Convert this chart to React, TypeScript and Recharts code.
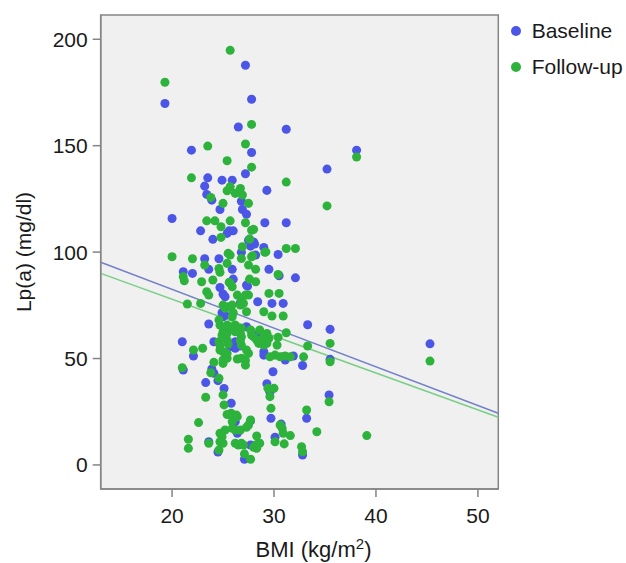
import React from 'react';
import {
  ScatterChart,
  Scatter,
  XAxis,
  YAxis,
  ZAxis,
  ReferenceArea,
  ReferenceLine,
} from 'recharts';

// [BMI (kg/m2), Lp(a) (mg/dl)]
const baselinePoints: [number, number][] = [
  [19.3, 169.8], [27.2, 187.8], [27.8, 171.8], [26.5, 158.8], [31.2, 157.7], [21.9, 147.9], [27.8, 146.8], [27.2, 136.8], [23.5, 134.9], [23.2, 131.0],
  [24.9, 133.8], [25.9, 133.8], [23.4, 127.1], [23.9, 124.4], [29.3, 129.0], [26.8, 123.9], [24.7, 120.0], [26.9, 120.0], [27.3, 117.8], [20.0, 115.8],
  [29.1, 113.8], [31.2, 113.8], [22.8, 110.0], [24.0, 106.0], [25.6, 110.0], [26.0, 110.0], [25.4, 108.8], [27.5, 105.6], [27.7, 102.8], [28.1, 103.8],
  [29.0, 102.2], [23.2, 96.9], [24.6, 96.9], [28.2, 98.6], [30.4, 98.9], [21.1, 90.8], [22.0, 90.0], [23.6, 91.9], [25.9, 91.9], [29.5, 91.9],
  [32.1, 87.9], [26.8, 99.9], [27.6, 106.1], [28.0, 104.8], [27.3, 84.5], [26.0, 87.3], [30.5, 88.9], [24.7, 83.4], [27.4, 84.0], [25.0, 80.3],
  [25.2, 79.0], [26.7, 76.2], [28.4, 76.7], [29.8, 75.9], [30.9, 75.9], [24.9, 71.5], [25.2, 70.4], [25.0, 69.6], [23.6, 66.2], [25.7, 64.6],
  [27.3, 64.9], [33.3, 65.9], [35.5, 63.7], [28.3, 61.0], [21.0, 57.9], [24.1, 57.9], [26.2, 57.9], [22.1, 51.2], [25.7, 55.5], [26.2, 54.8],
  [26.7, 55.9], [29.0, 53.2], [30.9, 50.8], [31.9, 51.2], [35.5, 49.6], [29.0, 51.6], [31.1, 49.3], [32.8, 46.7], [45.3, 56.9], [38.1, 147.9],
  [35.2, 139.0], [21.1, 44.6], [23.9, 45.1], [24.1, 43.1], [23.3, 38.7], [25.1, 35.9], [29.9, 43.8], [29.3, 38.2], [29.6, 34.1], [35.4, 32.9],
  [25.8, 29.0], [33.2, 21.9], [29.7, 21.9], [26.2, 20.3], [27.7, 20.7], [30.7, 19.2], [26.4, 14.9], [30.1, 13.0], [23.6, 10.9], [24.5, 6.1],
  [27.7, 9.4], [32.8, 4.7], [27.1, 2.7], [24.5, 39.6],
];

const followupPoints: [number, number][] = [
  [19.3, 179.8], [25.7, 194.8], [27.8, 160.0], [23.5, 149.8], [27.2, 150.8], [25.4, 142.9], [27.8, 139.9], [21.9, 134.9], [25.7, 130.7], [26.7, 129.9],
  [26.2, 127.6], [26.9, 126.8], [25.4, 128.8], [23.8, 125.7], [31.2, 132.9], [25.0, 122.9], [27.5, 122.9], [35.2, 121.7], [24.8, 111.9], [23.4, 114.7],
  [24.2, 114.7], [25.7, 114.7], [27.2, 113.8], [24.8, 106.9], [27.8, 110.3], [28.0, 110.7], [27.6, 106.0], [26.9, 102.5], [29.2, 100.1], [29.1, 99.9],
  [31.2, 101.7], [32.1, 101.7], [20.0, 97.8], [22.0, 96.9], [25.5, 99.4], [25.7, 98.6], [26.8, 97.0], [27.8, 97.8], [27.9, 98.3], [23.2, 93.9],
  [24.6, 92.3], [25.4, 94.7], [27.5, 93.9], [28.2, 91.9], [30.4, 89.5], [21.1, 88.4], [24.7, 90.5], [21.2, 86.5], [22.9, 86.1], [24.0, 86.9],
  [25.6, 85.8], [27.6, 87.3], [28.2, 86.1], [25.7, 85.3], [25.9, 83.7], [23.4, 81.4], [23.6, 79.8], [26.4, 79.8], [27.2, 79.8], [27.5, 79.8],
  [26.8, 77.5], [27.0, 75.9], [26.7, 75.1], [29.5, 80.6], [30.5, 80.6], [21.5, 75.6], [22.8, 75.9], [25.0, 75.1], [25.5, 74.3], [25.9, 75.1],
  [25.2, 73.6], [26.0, 71.5], [25.9, 69.6], [27.3, 72.0], [29.0, 72.0], [29.8, 70.0], [30.9, 70.0], [24.6, 68.1], [24.7, 65.7], [25.4, 65.7],
  [25.9, 64.9], [26.2, 65.7], [25.0, 62.6], [25.4, 61.8], [24.9, 61.0], [26.8, 64.2], [27.7, 63.4], [26.2, 62.6], [26.7, 61.8], [26.8, 60.2],
  [27.8, 61.0], [28.0, 60.2], [28.6, 63.4], [29.0, 61.0], [29.3, 61.8], [29.5, 59.5], [31.2, 62.1], [30.4, 60.0], [24.6, 57.9], [24.7, 56.3],
  [25.4, 58.7], [25.5, 56.8], [26.7, 58.4], [26.8, 56.3], [28.3, 58.7], [28.5, 57.1], [28.8, 57.9], [29.0, 56.3], [29.3, 57.1], [30.3, 56.3],
  [33.3, 55.9], [35.5, 57.1], [22.1, 54.0], [23.0, 54.8], [24.7, 54.0], [25.0, 53.2], [25.4, 52.4], [27.3, 54.0], [27.5, 52.4], [29.6, 50.8],
  [30.1, 51.6], [30.6, 50.8], [31.1, 51.2], [31.6, 50.8], [32.9, 50.8], [35.5, 48.5], [25.0, 49.3], [25.4, 50.1], [26.4, 49.8], [26.8, 50.1],
  [27.2, 49.1], [25.0, 47.7], [27.2, 46.9], [24.1, 48.2], [21.0, 45.7], [23.8, 43.3], [24.6, 40.7], [29.4, 36.0], [30.0, 36.0], [29.6, 32.1],
  [23.3, 31.8], [25.0, 32.9], [35.4, 29.7], [25.1, 28.2], [29.7, 26.6], [33.2, 25.8], [25.4, 23.7], [25.8, 24.3], [26.3, 23.5], [22.6, 19.9],
  [26.0, 21.9], [26.4, 22.7], [25.9, 20.3], [27.5, 18.8], [27.3, 17.7], [27.7, 21.1], [30.6, 18.8], [30.8, 17.2], [31.6, 13.8], [34.2, 15.6],
  [25.2, 16.4], [24.7, 14.9], [24.9, 13.3], [24.7, 10.9], [25.0, 10.2], [25.9, 17.2], [26.2, 16.4], [26.7, 16.4], [28.3, 13.6], [30.1, 10.9],
  [30.9, 14.9], [31.0, 9.9], [23.6, 10.2], [21.6, 12.1], [21.6, 7.8], [24.6, 7.0], [26.2, 10.2], [26.5, 9.4], [26.8, 10.2], [27.0, 9.4],
  [28.2, 9.4], [28.5, 10.2], [28.6, 10.2], [28.3, 7.8], [28.0, 8.3], [32.7, 8.6], [32.8, 6.2], [27.1, 5.2], [27.7, 2.7], [39.1, 13.8],
  [45.3, 48.8], [38.1, 144.7],
];

// Linear fit lines (endpoints at the x-axis extent)
const baselineFit: [number, number][] = [[13, 95.2], [52, 24.3]];
const followupFit: [number, number][] = [[13, 90.0], [52, 22.4]];

const xTicks = [20, 30, 40, 50];
const yTicks = [0, 50, 100, 150, 200];
const xDomain: [number, number] = [13, 52];
const yDomain: [number, number] = [-11.3, 211.4];

const seriesNames = ['Baseline', 'Follow-up'];
const BLUE = '#4b56e6';
const GREEN = '#2db33c';
const BLUE_LINE = '#7381c9';
const GREEN_LINE = '#79cf86';
const FRAME = '#858585';
const FONT = '"Liberation Sans", Arial, Helvetica, sans-serif';
const FS = 21;

const baselineData = baselinePoints.map(([bmi, lpa]) => ({ bmi, lpa }));
const followupData = followupPoints.map(([bmi, lpa]) => ({ bmi, lpa }));

const YLabel = (props: any) => {
  const vb = props.viewBox || {};
  const cx = 23;
  const cy = vb.y + vb.height / 2;
  return (
    <text
      x={cx}
      y={cy}
      transform={`rotate(-90 ${cx} ${cy})`}
      textAnchor="middle"
      dominantBaseline="central"
      fontFamily={FONT}
      fontSize={FS}
      fill="#1a1a1a"
    >
      Lp(a) (mg/dl)
    </text>
  );
};

const XLabel = (props: any) => {
  const vb = props.viewBox || {};
  const cx = vb.x + vb.width / 2 + 14;
  return (
    <text x={cx} y={557} textAnchor="middle" fontFamily={FONT} fontSize={22} fill="#1a1a1a">
      <tspan>BMI (kg/m</tspan>
      <tspan dy={-8} fontSize={15}>2</tspan>
      <tspan dy={8}>)</tspan>
    </text>
  );
};

export default function App() {
  return (
    <div style={{ position: 'fixed', left: 0, top: 0, width: 626, height: 563, background: '#fff' }}>
      <ScatterChart
        width={626}
        height={563}
        margin={{ top: 15, right: 127.7, bottom: 0, left: 0 }}
      >
        <XAxis
          type="number"
          dataKey="bmi"
          domain={xDomain}
          ticks={xTicks}
          allowDataOverflow
          height={74}
          axisLine={{ stroke: FRAME, strokeWidth: 1.5 }}
          tickLine={{ stroke: FRAME, strokeWidth: 1.5 }}
          tickSize={8}
          tickMargin={11}
          tick={{ fontFamily: FONT, fontSize: FS, fill: '#1a1a1a' }}
          label={<XLabel />}
        />
        <YAxis
          type="number"
          dataKey="lpa"
          domain={yDomain}
          ticks={yTicks}
          allowDataOverflow
          width={100.7}
          axisLine={{ stroke: FRAME, strokeWidth: 1.5 }}
          tickLine={{ stroke: FRAME, strokeWidth: 1.5 }}
          tickSize={8}
          tickMargin={5}
          tick={{ fontFamily: FONT, fontSize: FS, fill: '#1a1a1a' }}
          label={<YLabel />}
        />
        <ZAxis range={[64, 64]} />
        <ReferenceArea
          x1={xDomain[0]}
          x2={xDomain[1]}
          y1={yDomain[0]}
          y2={yDomain[1]}
          fill="#f0f0f0"
          fillOpacity={1}
          stroke={FRAME}
          strokeWidth={1.5}
        />
        <Scatter name={seriesNames[0]} data={baselineData} fill={BLUE} isAnimationActive={false} />
        <Scatter name={seriesNames[1]} data={followupData} fill={GREEN} isAnimationActive={false} />
        <ReferenceLine
          segment={baselineFit.map(([x, y]) => ({ x, y }))}
          stroke={BLUE_LINE}
          strokeWidth={1.5}
        />
        <ReferenceLine
          segment={followupFit.map(([x, y]) => ({ x, y }))}
          stroke={GREEN_LINE}
          strokeWidth={1.5}
        />
      </ScatterChart>
      <svg
        width={126}
        height={90}
        style={{ position: 'absolute', left: 500, top: 10 }}
      >
        <circle cx={16} cy={21} r={5} fill={BLUE} />
        <text x={31.7} y={27.5} fontFamily={FONT} fontSize={FS} fill="#1a1a1a">
          {seriesNames[0]}
        </text>
        <circle cx={16} cy={57} r={5} fill={GREEN} />
        <text x={31.7} y={63.5} fontFamily={FONT} fontSize={FS} fill="#1a1a1a">
          {seriesNames[1]}
        </text>
      </svg>
    </div>
  );
}
